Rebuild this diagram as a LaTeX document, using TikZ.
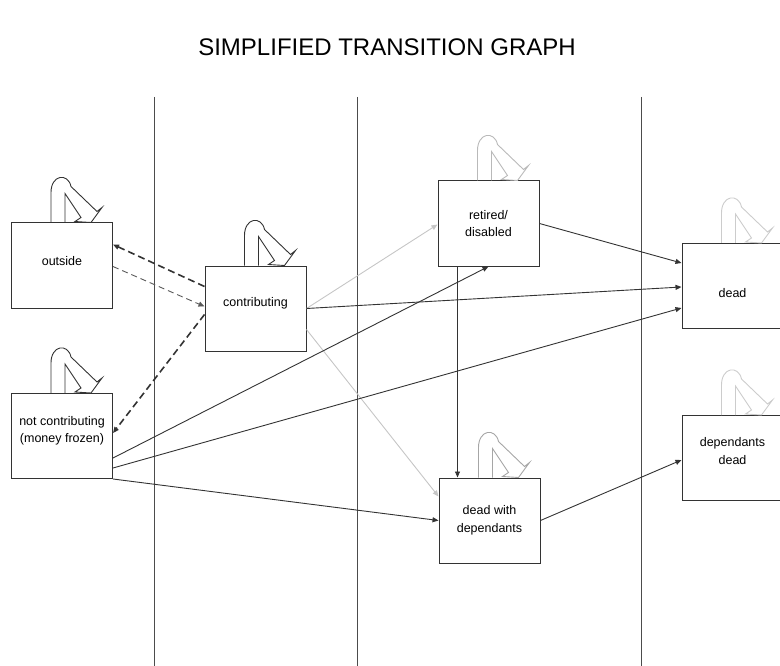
\documentclass[tikz,border=0pt]{standalone}
\usepackage{fontspec}
\setmainfont{Liberation Sans}
\usetikzlibrary{arrows.meta,calc}
\tikzset{
  box/.style={draw=black!80, line width=1pt, minimum width=101pt, minimum height=85pt, align=center, inner sep=1pt, font=\fontsize{12.5}{17.5}\selectfont},
  arr/.style={-{Triangle[length=6pt,width=5pt]}, line width=0.9pt, black!80},
  pale/.style={arr, gray!45},
  bolddash/.style={arr, line width=1.6pt, dash pattern=on 7pt off 4pt},
  thindash/.style={arr, gray!70!black, dash pattern=on 6pt off 4pt},
  pics/selfloop/.style={code={
    \draw[line width=0.9pt, #1] (40,0) -- (40,-30) .. controls (40,-48) and (57,-50) .. (60,-36) -- (86,-11) -- (91,-15) -- (80,0) -- (64,-1) -- (70,-5) -- (54,-29) -- (54,0);
  }},
  pics/selfloop/.default=black!80
}
\begin{document}
\begin{tikzpicture}[x=1pt, y=-1pt]
            \clip (0,0) rectangle (780,666);
            \node[anchor=base, font=\fontsize{24}{28}\selectfont] (title) at (387,56) {SIMPLIFIED TRANSITION GRAPH};

            \draw[line width=1pt, black!70] (154,97) -- (154,666);
            \draw[line width=1pt, black!70] (357,97) -- (357,666);
            \draw[line width=1pt, black!70] (641,97) -- (641,666);

            \node[box, text depth=10pt] (outside) at (62,265.5) {outside};
            \node[box, text depth=12.6pt] (contrib) at (255.5,308.5) {contributing};
            \node[box, text depth=12.7pt] (notcontrib) at (62,436) {not contributing\\(money frozen)};
            \node[box] (retired) at (488.5,223.5) {retired/\\disabled};
            \node[box] (dwd) at (489.5,520.5) {dead with\\dependants};
            \node[box, text height=23pt] (dead) at (732.5,286) {dead};
            \node[box, text depth=14pt] (depdead) at (732.5,458) {dependants\\dead};

            \pic at (outside.north west) {selfloop};
            \pic at (contrib.north west) {selfloop};
            \pic at (notcontrib.north west) {selfloop};
            \pic at (retired.north west) {selfloop=gray!55};
            \pic at (dwd.north west) {selfloop=gray!70};
            \pic at (dead.north west) {selfloop=gray!40};
            \pic at (depdead.north west) {selfloop=gray!40};

            \draw[bolddash] ($(contrib.north west)+(0,21)$) to ($(outside.north east)+(0,22)$);
            \draw[thindash] ($(outside.north east)+(0,44)$) to ($(contrib.north west)+(0,41)$);
            \draw[bolddash] ($(contrib.north west)+(0,49)$) to ($(notcontrib.north east)+(0,40)$);
            \draw[pale] (contrib.east) to ($(retired.north west)+(0,44)$);
            \draw[arr] (contrib.east) to ($(dead.north west)+(0,44)$);
            \draw[pale] ($(contrib.north east)+(0,64)$) to ($(dwd.north west)+(0,19)$);
            \draw[arr] ($(notcontrib.north east)+(0,65)$) to (retired.south);
            \draw[arr] ($(notcontrib.north east)+(0,75)$) to ($(dead.north west)+(0,65)$);
            \draw[arr] (notcontrib.south east) to (dwd.west);
            \draw[arr] (retired.east) to ($(dead.north west)+(0,20)$);
            \draw[arr] ($(retired.south west)+(20,0)$) to ($(dwd.north west)+(19,0)$);
            \draw[arr] (dwd.east) to ($(depdead.north west)+(0,45)$);
        \end{tikzpicture}
\end{document}
